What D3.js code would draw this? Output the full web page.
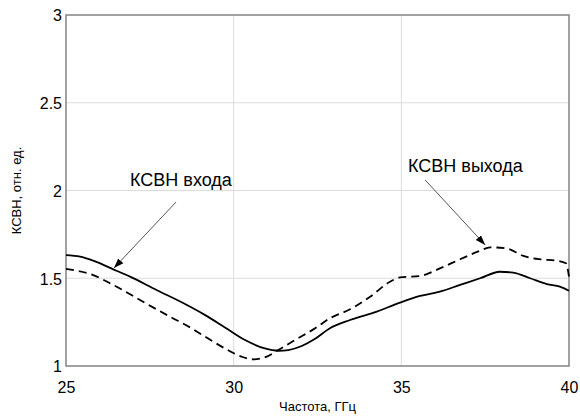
<!DOCTYPE html>
<html>
<head>
<meta charset="utf-8">
<script src="https://cdn.jsdelivr.net/npm/d3@7"></script>
<style>
  html, body { margin: 0; padding: 0; background: #fff; }
  svg { display: block; }
  text { font-family: Arial, "Liberation Sans", sans-serif; fill: #000; }
</style>
</head>
<body>
<svg id="chart" width="580" height="416"></svg>
<script>
// ---- data ----
const xTicks = [25, 30, 35, 40];
const yTicks = [1, 1.5, 2, 2.5, 3];
const xLabel = "Частота, ГГц";
const yLabel = "КСВН, отн. ед.";

// КСВН входа (solid)
const inFreq = [25.0, 25.42, 25.81, 26.41, 26.91, 27.7, 28.55, 29.15, 29.74, 30.34, 30.93, 31.33, 31.63, 32.03, 32.43, 32.87, 33.47, 34.27, 34.96, 35.56, 36.15, 36.75, 37.35, 37.94, 38.34, 38.84, 39.34, 39.73, 40.0];
const inVswr = [1.632, 1.623, 1.60, 1.551, 1.509, 1.433, 1.353, 1.29, 1.22, 1.148, 1.10, 1.087, 1.091, 1.114, 1.155, 1.215, 1.262, 1.31, 1.361, 1.399, 1.424, 1.462, 1.50, 1.537, 1.532, 1.50, 1.467, 1.452, 1.429];

// КСВН выхода (dashed)
const outFreq = [25.0, 25.81, 26.41, 27.3, 28.1, 28.7, 29.15, 29.74, 30.24, 30.59, 30.93, 31.33, 31.83, 32.43, 32.87, 33.47, 34.07, 34.66, 34.96, 35.56, 36.15, 36.75, 37.35, 37.65, 38.14, 38.64, 39.14, 39.64, 39.91, 40.0];
const outVswr = [1.553, 1.518, 1.462, 1.366, 1.281, 1.22, 1.167, 1.10, 1.053, 1.038, 1.049, 1.091, 1.148, 1.215, 1.272, 1.323, 1.395, 1.48, 1.505, 1.513, 1.556, 1.608, 1.657, 1.676, 1.67, 1.627, 1.608, 1.60, 1.585, 1.51];

// annotations: [text, textX, textY, arrowFromX, arrowFromY, arrowToX, arrowToY] in data units
const annoText = ["КСВН входа", "КСВН выхода"];
const annoTextPos = [[26.91, 2.026], [35.2, 2.105]];
const annoArrowFrom = [[28.28, 1.934], [35.71, 2.06]];
const annoArrowTo = [[26.43, 1.558], [37.5, 1.69]];

// ---- layout ----
const svg = d3.select("#chart");
const L = 66, R = 569, T = 15, B = 366;
const x = d3.scaleLinear().domain([25, 40]).range([L, R]);
const y = d3.scaleLinear().domain([1, 3]).range([B, T]);

// grid
const g = svg.append("g");
g.selectAll(".vg").data(xTicks.slice(1, -1)).join("line")
  .attr("x1", d => x(d)).attr("x2", d => x(d))
  .attr("y1", T).attr("y2", B)
  .attr("stroke", "#dcdcdc").attr("stroke-width", 1);
g.selectAll(".hg").data(yTicks.slice(1, -1)).join("line")
  .attr("x1", L).attr("x2", R)
  .attr("y1", d => y(d)).attr("y2", d => y(d))
  .attr("stroke", "#dcdcdc").attr("stroke-width", 1);

// axes
const xAxis = d3.axisBottom(x).tickValues(xTicks).tickSize(0).tickPadding(0).tickFormat(d3.format("d"));
const yAxis = d3.axisLeft(y).tickValues(yTicks).tickSize(0).tickPadding(4).tickFormat(d => d);

const gx = svg.append("g").attr("transform", `translate(0,${B})`).call(xAxis);
gx.select(".domain").remove();
gx.selectAll("text").attr("font-size", 16).attr("dy", null).attr("y", 27)
  .style("font-family", "Arial, 'Liberation Sans', sans-serif").attr("fill", "#000");

const gy = svg.append("g").attr("transform", `translate(${L},0)`).call(yAxis);
gy.select(".domain").remove();
gy.selectAll("text").attr("font-size", 16).attr("dy", "0.36em")
  .style("font-family", "Arial, 'Liberation Sans', sans-serif").attr("fill", "#000");

// frame
svg.append("rect").attr("x", L).attr("y", T).attr("width", R - L).attr("height", B - T)
  .attr("fill", "none").attr("stroke", "#8a8a8a").attr("stroke-width", 1.6);

// axis labels
svg.append("text").attr("x", (L + R) / 2).attr("y", 411).attr("text-anchor", "middle")
  .attr("font-size", 13).text(xLabel);
svg.append("text").attr("transform", `translate(21,${(T + B) / 2}) rotate(-90)`)
  .attr("text-anchor", "middle").attr("font-size", 13).text(yLabel);

// curves
const line = d3.line().x(d => x(d[0])).y(d => y(d[1])).curve(d3.curveMonotoneX);
const inData = inFreq.map((f, i) => [f, inVswr[i]]);
const outData = outFreq.map((f, i) => [f, outVswr[i]]);

svg.append("path").datum(outData).attr("d", line)
  .attr("fill", "none").attr("stroke", "#000").attr("stroke-width", 1.8)
  .attr("stroke-dasharray", "8,5");
svg.append("path").datum(inData).attr("d", line)
  .attr("fill", "none").attr("stroke", "#000").attr("stroke-width", 1.8);

// annotations
const defs = svg.append("defs");
defs.append("marker").attr("id", "ah").attr("viewBox", "0 0 10 10")
  .attr("refX", 10).attr("refY", 5).attr("markerWidth", 10).attr("markerHeight", 10)
  .attr("markerUnits", "userSpaceOnUse").attr("orient", "auto")
  .append("path").attr("d", "M0,1.5 L10,5 L0,8.5 Z").attr("fill", "#000");

annoText.forEach((t, i) => {
  svg.append("text").attr("x", x(annoTextPos[i][0])).attr("y", y(annoTextPos[i][1]))
    .attr("font-size", 18).text(t);
  svg.append("line")
    .attr("x1", x(annoArrowFrom[i][0])).attr("y1", y(annoArrowFrom[i][1]))
    .attr("x2", x(annoArrowTo[i][0])).attr("y2", y(annoArrowTo[i][1]))
    .attr("stroke", "#555").attr("stroke-width", 1)
    .attr("marker-end", "url(#ah)");
});
</script>
</body>
</html>
